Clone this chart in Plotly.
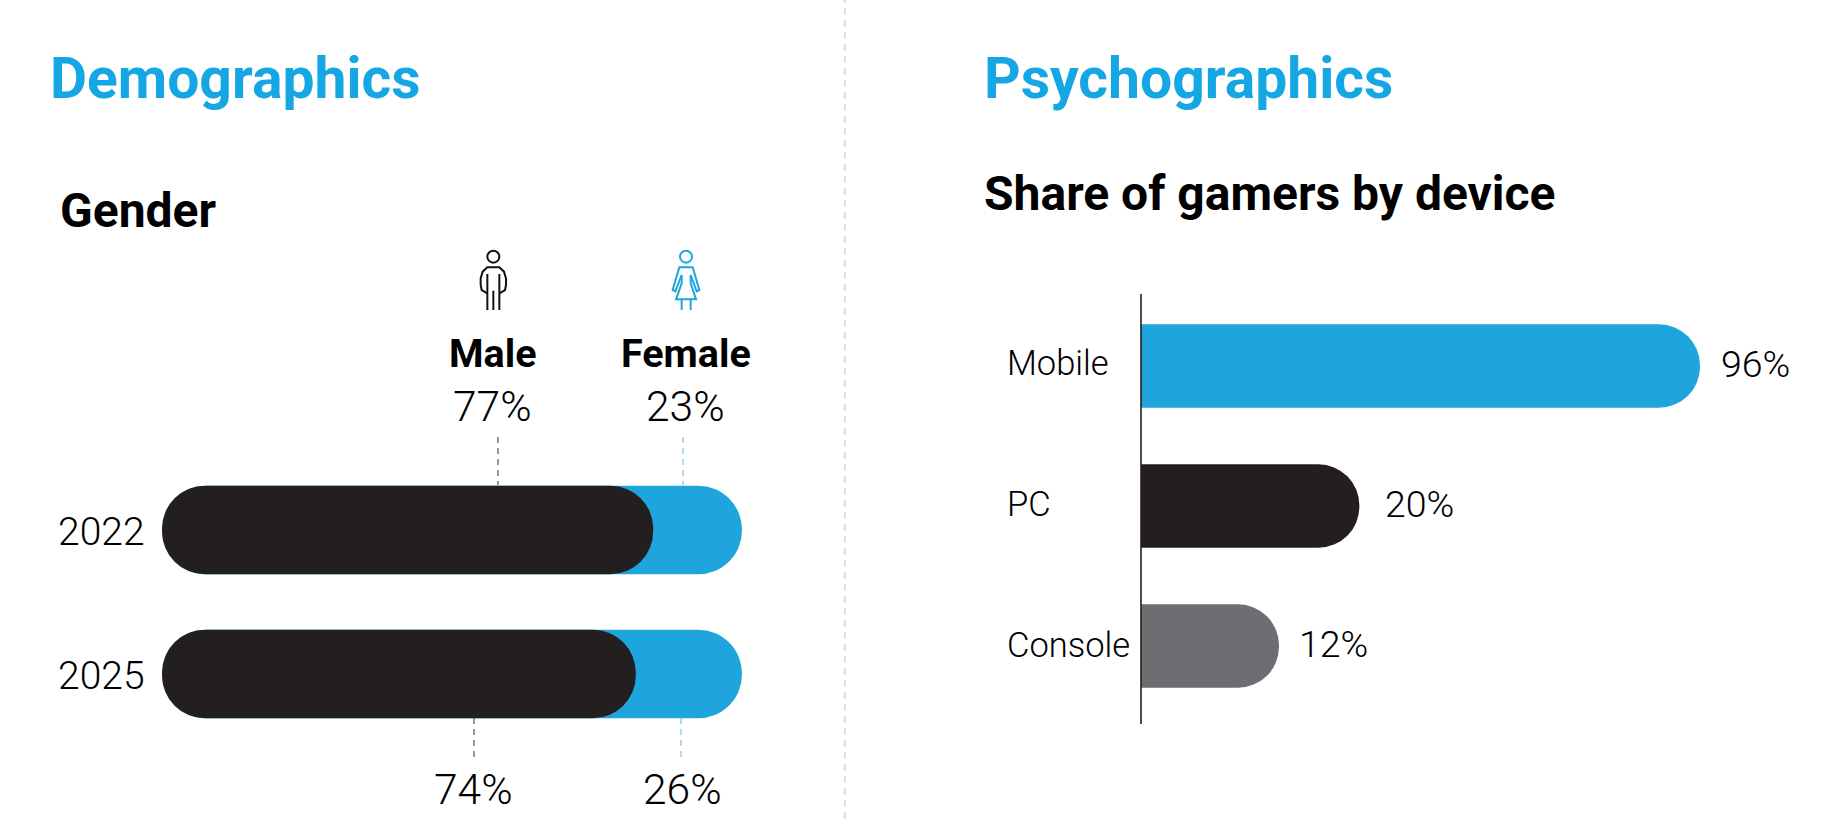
import plotly.graph_objects as go

W = 1840
H = 819
BLUE = "#1fa5dd"
TITLE_BLUE = "#15a6e4"
DARK = "#231f20"
GREY = "#6d6e71"
TEXT = "#000000"

years = ["2022", "2025"]
male_share = [77, 74]
female_share = [23, 26]

devices = ["Mobile", "PC", "Console"]
device_labels = ["96%", "20%", "12%"]
# bars in the source are not drawn to a linear scale, these are the lengths as drawn
device_lengths = [96, 37.5, 23.7]
label_gaps = [19, 24, 18]

# the dark bar runs past its share by this many axis units (its rounded end)
male_cap = 7.7


def px(x):
    return x / W


def py(y):
    return 1 - y / H


def label(x, y, text, size, color=TEXT, weight=300, xanchor="center"):
    fig.add_annotation(x=px(x), y=py(y), xref="paper", yref="paper", text=text, showarrow=False,
                       xanchor=xanchor, yanchor="middle", align="left",
                       font=dict(family="Roboto", size=size, color=color, weight=weight))


def dash(x, y0, y1, color):
    fig.add_shape(type="line", xref="paper", yref="paper", x0=px(x), x1=px(x), y0=py(y0), y1=py(y1),
                  line=dict(color=color, width=1.2, dash="6px,5px"))


def icon_line(points, color):
    coords = [(px(400 + a / 3), py(230 + b / 3)) for a, b in points]
    path = "M " + " L ".join(f"{a:.5f},{b:.5f}" for a, b in coords)
    fig.add_shape(type="path", xref="paper", yref="paper", path=path,
                  line=dict(color=color, width=2))


def icon_head(a, b, color):
    cx, cy, r = 400 + a / 3, 230 + b / 3, 6
    fig.add_shape(type="circle", xref="paper", yref="paper", x0=px(cx - r), x1=px(cx + r),
                  y0=py(cy - r), y1=py(cy + r), line=dict(color=color, width=2))


fig = go.Figure()

# gender: blue track with the dark bar on top, a set base rounds both ends of a bar
fig.add_trace(go.Bar(y=years, x=[m + f for m, f in zip(male_share, female_share)], base=[0, 0], orientation="h",
                     width=0.616, marker=dict(color=BLUE, cornerradius=44, line=dict(width=0)),
                     xaxis="x", yaxis="y"))
fig.add_trace(go.Bar(y=years, x=[m + male_cap for m in male_share], base=[0, 0], orientation="h",
                     width=0.616, marker=dict(color=DARK, cornerradius=43, line=dict(width=0)),
                     xaxis="x", yaxis="y"))

# devices
fig.add_trace(go.Bar(y=devices, x=device_lengths, orientation="h", width=0.596,
                     marker=dict(color=[BLUE, DARK, GREY], cornerradius=41, line=dict(width=0)),
                     xaxis="x2", yaxis="y2"))

fig.update_layout(
    width=W, height=H, margin=dict(l=0, r=0, t=0, b=0), paper_bgcolor="white", plot_bgcolor="white",
    barmode="overlay", showlegend=False,
    xaxis=dict(domain=[px(162), px(742)], range=[0, 100], visible=False),
    yaxis=dict(domain=[py(746), py(458)], categoryorder="array", categoryarray=years[::-1],
               range=[-0.5, 1.5], visible=False),
    xaxis2=dict(domain=[px(1141), px(1700)], range=[0, 96], visible=False, anchor="y2"),
    yaxis2=dict(domain=[py(716), py(296)], categoryorder="array", categoryarray=devices[::-1],
                range=[-0.5, 2.5], visible=False, anchor="x2"),
)

# titles
label(48, 79, "Demographics", 57, TITLE_BLUE, 700, "left")
label(982, 79, "Psychographics", 57, TITLE_BLUE, 700, "left")
label(58, 211, "Gender", 48, TEXT, 700, "left")
label(982, 193, "Share of gamers by device", 48, TEXT, 700, "left")

# gender labels
label(493, 353, "Male", 39.5, TEXT, 700)
label(686, 353, "Female", 39.5, TEXT, 700)
label(493, 406, f"{male_share[0]}%", 42.5)
label(685, 406, f"{female_share[0]}%", 42.5)
label(473, 789, f"{male_share[1]}%", 42.5)
label(682, 789, f"{female_share[1]}%", 42.5)
label(56, 532, years[0], 39, xanchor="left")
label(56, 676, years[1], 39, xanchor="left")

# device names and values
device_y = [363, 504, 645]
for name, y in zip(devices, device_y):
    label(1005, y, name, 34.5, xanchor="left")
for name, length, text, gap in zip(devices, device_lengths, device_labels, label_gaps):
    fig.add_annotation(x=length, y=name, xref="x2", yref="y2", text=text, showarrow=False,
                       xanchor="left", xshift=gap, yshift=2,
                       font=dict(family="Roboto", size=37.5, color=TEXT, weight=300))

# leaders and the divider
dash(498, 437, 485, "#555555")
dash(683, 437, 485, "#7fc3e6")
dash(474, 718, 757, "#555555")
dash(681, 718, 757, "#7fc3e6")
fig.add_shape(type="line", xref="paper", yref="paper", x0=px(845), x1=px(845), y0=0, y1=1,
              line=dict(color="#c8c8c8", width=1.2, dash="7px,5px"))

# axis line on the device bars
fig.add_shape(type="line", xref="paper", yref="paper", x0=px(1141), x1=px(1141), y0=py(294), y1=py(724),
              line=dict(color="#231f20", width=1.6))

# person icons
icon_head(280, 80, "#111111")
icon_line([(262, 190), (245, 180), (242, 165), (242, 145), (248, 125), (262, 112), (298, 112), (312, 125),
           (318, 145), (318, 165), (315, 180), (298, 190)], "#111111")
icon_line([(262, 132), (262, 240)], "#111111")
icon_line([(298, 132), (298, 240)], "#111111")
icon_line([(280, 182), (280, 240)], "#111111")

icon_head(858, 80, BLUE)
icon_line([(845, 135), (826, 184), (818, 180), (838, 112), (878, 112), (898, 180), (890, 184), (872, 135)], BLUE)
icon_line([(845, 135), (845, 160), (828, 208), (888, 208), (872, 160), (872, 135)], BLUE)
icon_line([(845, 208), (845, 240)], BLUE)
icon_line([(872, 208), (872, 240)], BLUE)

fig.write_html("out.html", config=dict(displayModeBar=False),
               post_script="document.body.style.margin='0';document.body.style.overflow='hidden';")
